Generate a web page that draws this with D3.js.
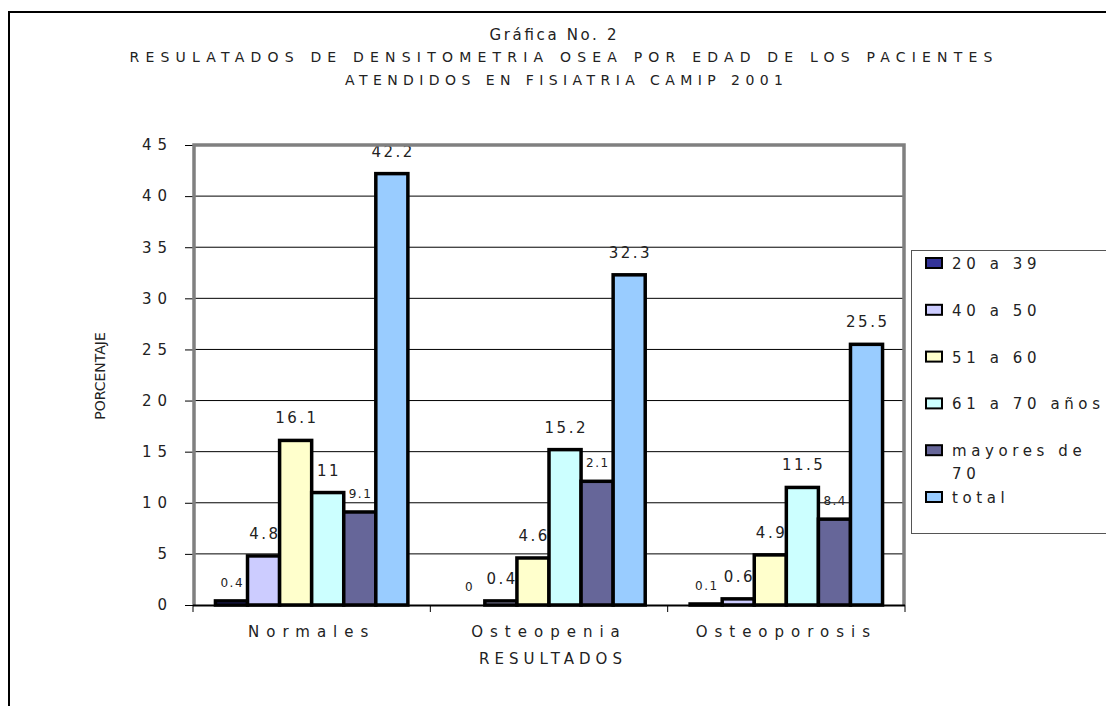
<!DOCTYPE html>
<html>
<head>
<meta charset="utf-8">
<script src="https://cdn.jsdelivr.net/npm/d3@7"></script>
<style>
  body { margin: 0; background: #fff; }
  text { font-family: "DejaVu Sans", sans-serif; fill: #222; }
</style>
</head>
<body>
<script>
'use strict';

// categories on the x axis
const categories = ["Normales", "Osteopenia", "Osteoporosis"];

// age groups (series)
const seriesNames = ["20 a 39", "40 a 50", "51 a 60", "61 a 70 años", "mayores de 70", "total"];

// percentages per category, one value per age group
const normales = [0.4, 4.8, 16.1, 11, 9.1, 42.2];
const osteopenia = [0, 0.4, 4.6, 15.2, 12.1, 32.3];
const osteoporosis = [0.1, 0.6, 4.9, 11.5, 8.4, 25.5];

// data labels as they appear on the chart
const normalesLabels = ["0.4", "4.8", "16.1", "11", "9.1", "42.2"];
const osteopeniaLabels = ["0", "0.4", "4.6", "15.2", "2.1", "32.3"];
const osteoporosisLabels = ["0.1", "0.6", "4.9", "11.5", "8.4", "25.5"];

// y axis ticks
const yTicks = [0, 5, 10, 15, 20, 25, 30, 35, 40, 45];

const seriesColors = ["#333399", "#ccccff", "#ffffcc", "#ccffff", "#666699", "#99ccff"];

(function() {

  let svg = "";

  window.onload = function() {
    svg = d3.select('body')
      .append('svg')
      .attr('width', 1106)
      .attr('height', 706);

    let values = [normales, osteopenia, osteoporosis];
    let labels = [normalesLabels, osteopeniaLabels, osteoporosisLabels];

    // outer chart border
    svg.append('rect')
      .attr('x', 9)
      .attr('y', 12)
      .attr('width', 1200)
      .attr('height', 800)
      .attr('fill', 'none')
      .attr('stroke', '#000')
      .attr('stroke-width', 2);

    makeTitles();
    let scales = drawAxes();
    drawBars(scales, values, labels);
    drawFrame(scales);
    drawLegend();
  }

  // titles and axis labels
  function makeTitles() {
    svg.append('text')
      .attr('x', 553).attr('y', 40)
      .attr('text-anchor', 'middle')
      .attr('textLength', 127).attr('lengthAdjust', 'spacing')
      .style('font-size', '15px')
      .text('Gráfica No. 2');

    svg.append('text')
      .attr('x', 561).attr('y', 62)
      .attr('text-anchor', 'middle')
      .attr('textLength', 863).attr('lengthAdjust', 'spacing')
      .style('font-size', '14px')
      .text('RESULATADOS DE DENSITOMETRIA OSEA POR EDAD DE LOS PACIENTES');

    svg.append('text')
      .attr('x', 564).attr('y', 85)
      .attr('text-anchor', 'middle')
      .attr('textLength', 438).attr('lengthAdjust', 'spacing')
      .style('font-size', '14px')
      .text('ATENDIDOS EN FISIATRIA CAMIP 2001');

    svg.append('text')
      .attr('transform', 'translate(105, 376)rotate(-90)')
      .attr('text-anchor', 'middle')
      .style('font-size', '14px')
      .text('PORCENTAJE');

    svg.append('text')
      .attr('x', 553).attr('y', 664)
      .attr('text-anchor', 'middle')
      .style('font-size', '15px')
      .style('letter-spacing', '5px')
      .text('RESULTADOS');
  }

  // scales, gridlines and axes
  function drawAxes() {
    let x0 = d3.scaleBand()
      .domain(categories)
      .range([193, 905]);

    let x1 = d3.scaleBand()
      .domain(seriesNames)
      .range([0, x0.bandwidth()])
      .paddingOuter(0.7);

    let y = d3.scaleLinear()
      .domain([0, 45])
      .range([605, 145]);

    // horizontal gridlines
    svg.append('g')
      .selectAll('line')
      .data(yTicks.filter(d => d > 0 && d < 45))
      .enter()
      .append('line')
        .attr('x1', 193).attr('x2', 905)
        .attr('y1', d => y(d)).attr('y2', d => y(d))
        .attr('stroke', '#000')
        .attr('stroke-width', 1);

    // y axis
    let yAxis = d3.axisLeft(y).tickValues(yTicks).tickSize(8).tickPadding(12);
    let gy = svg.append('g')
      .attr('transform', 'translate(193, 0)')
      .call(yAxis);
    gy.select('.domain').remove();
    gy.selectAll('.tick line').attr('stroke', '#000');
    gy.selectAll('.tick text')
      .style('font-size', '15px')
      .style('letter-spacing', '6px')
      .style('font-family', '"DejaVu Sans", sans-serif');

    // x axis labels
    let xAxis = d3.axisBottom(x0).tickSize(0).tickPadding(21);
    let gx = svg.append('g')
      .attr('transform', 'translate(0, 605)')
      .call(xAxis);
    gx.select('.domain').remove();
    gx.selectAll('.tick text')
      .style('font-size', '15px')
      .style('letter-spacing', '7px')
      .style('font-family', '"DejaVu Sans", sans-serif');

    return { x0: x0, x1: x1, y: y };
  }

  // bars and data labels, series by series
  function drawBars(s, values, labels) {
    let g = svg.append('g');
    seriesNames.forEach(function(name, si) {
      let small = (si === 0 || si === 4);
      let ls = small ? 1.5 : 2.5;

      g.selectAll('.bar' + si)
        .data(categories)
        .enter()
        .append('rect')
          .attr('class', 'bar' + si)
          .attr('x', c => s.x0(c) + s.x1(name))
          .attr('y', (c, ci) => s.y(values[ci][si]))
          .attr('width', s.x1.bandwidth())
          .attr('height', (c, ci) => s.y(0) - s.y(values[ci][si]))
          .attr('fill', seriesColors[si])
          .attr('stroke', '#000')
          .attr('stroke-width', 3.5);

      g.selectAll('.lab' + si)
        .data(categories)
        .enter()
        .append('text')
          .attr('class', 'lab' + si)
          .attr('x', c => s.x0(c) + s.x1(name) + s.x1.bandwidth() / 2 + ls / 2)
          .attr('y', (c, ci) => s.y(values[ci][si]) - (small ? 14 : 17))
          .attr('text-anchor', 'middle')
          .style('font-size', small ? '12px' : '15px')
          .style('letter-spacing', ls + 'px')
          .text((c, ci) => labels[ci][si]);
    });
  }

  // plot area frame, x axis line and its ticks
  function drawFrame(s) {
    // gray frame: left, top and right
    svg.append('path')
      .attr('d', 'M194,605V145H904V605')
      .attr('fill', 'none')
      .attr('stroke', '#808080')
      .attr('stroke-width', 3.5);

    svg.append('line')
      .attr('x1', 193).attr('x2', 905)
      .attr('y1', 605.5).attr('y2', 605.5)
      .attr('stroke', '#000')
      .attr('stroke-width', 2);

    let bounds = categories.map(c => s.x0(c)).concat([s.x0.range()[1]]);
    svg.append('g')
      .selectAll('line')
      .data(bounds)
      .enter()
      .append('line')
        .attr('x1', d => d).attr('x2', d => d)
        .attr('y1', 605).attr('y2', 612)
        .attr('stroke', '#000')
        .attr('stroke-width', 1);
  }

  // legend box on the right
  function drawLegend() {
    let lg = svg.append('g');
    lg.append('rect')
      .attr('x', 911.5).attr('y', 250.5)
      .attr('width', 220).attr('height', 283)
      .attr('fill', '#fff')
      .attr('stroke', '#555')
      .attr('stroke-width', 1);

    let rowY = d3.scalePoint()
      .domain(seriesNames)
      .range([263, 497]);

    let rows = lg.selectAll('.row')
      .data(seriesNames)
      .enter()
      .append('g')
        .attr('class', 'row')
        .attr('transform', d => 'translate(0,' + rowY(d) + ')');

    rows.append('rect')
      .attr('x', 926).attr('y', -5)
      .attr('width', 16).attr('height', 10)
      .attr('fill', (d, i) => seriesColors[i])
      .attr('stroke', '#000')
      .attr('stroke-width', 2);

    rows.append('text')
      .attr('x', 952).attr('y', 6)
      .style('font-size', '15px')
      .style('letter-spacing', '4.6px')
      .each(function(d) {
        // wrap "mayores de 70" onto two lines like the original
        let t = d3.select(this);
        let parts = d === "mayores de 70" ? ["mayores de", "70"] : [d];
        parts.forEach(function(p, k) {
          t.append('tspan')
            .attr('x', 952)
            .attr('dy', k === 0 ? 0 : 23)
            .text(p);
        });
      });
  }
})();
</script>
</body>
</html>
